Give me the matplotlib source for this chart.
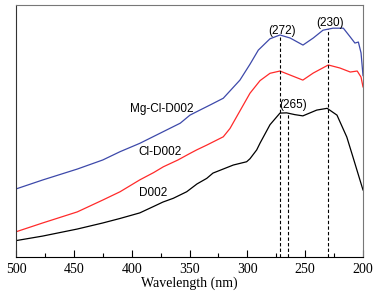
import matplotlib
matplotlib.use("Agg")
import matplotlib.pyplot as plt  # noqa: E402
from matplotlib.ticker import MultipleLocator  # noqa: E402

# Spectra (wavelength in nm, absorbance in arbitrary units)
mg_wl = [500, 476.7, 447, 425, 410, 393, 375.5, 358, 349.6, 341, 332.3, 320.8, 306.4, 297.7,
         290.5, 280.4, 271.8, 263, 251.9, 243, 234.6, 226, 217, 211, 207, 204, 201.7, 200]
mg_abs = [0.27, 0.306, 0.349, 0.385, 0.418, 0.451, 0.491, 0.531, 0.563, 0.583, 0.603, 0.63,
          0.702, 0.765, 0.821, 0.866, 0.881, 0.869, 0.841, 0.869, 0.90, 0.908, 0.908, 0.873,
          0.849, 0.853, 0.81, 0.72]

cl_wl = [500, 477, 447, 425, 410, 393, 381, 372.6, 360, 349.6, 343.8, 335.1, 320.8, 315,
         309.2, 297.7, 289, 280.4, 271.8, 263, 252, 243, 230, 220, 211, 205, 201.7, 200]
cl_abs = [0.10, 0.135, 0.179, 0.226, 0.259, 0.306, 0.335, 0.358, 0.385, 0.411, 0.425, 0.444,
          0.477, 0.51, 0.557, 0.65, 0.70, 0.729, 0.738, 0.722, 0.702, 0.73, 0.762, 0.75, 0.734,
          0.738, 0.714, 0.675]

d_wl = [500, 477, 447, 425, 410, 393, 381.3, 373, 364, 352.4, 343.5, 335.1, 329.7, 312.1,
        300.6, 297.7, 291.9, 289, 280.4, 271.8, 266, 259, 252, 240, 231, 222.5, 214, 208.7,
        202.6, 200]
d_abs = [0.065, 0.083, 0.111, 0.135, 0.153, 0.175, 0.20, 0.218, 0.233, 0.259, 0.29, 0.312,
         0.333, 0.365, 0.378, 0.39, 0.425, 0.452, 0.525, 0.571, 0.572, 0.565, 0.56, 0.583,
         0.59, 0.563, 0.476, 0.397, 0.305, 0.266]

series_names = ["Mg-Cl-D002", "Cl-D002", "D002"]
peak_wl = [272, 265, 230]
peak_top = [0.88, 0.572, 0.905]

fig = plt.figure(figsize=(3.79, 2.93), dpi=100)
ax = fig.add_axes([16 / 379, 36 / 293, 347 / 379, 252 / 293])

ax.plot(mg_wl, mg_abs, color="#3d49aa", lw=0.9)
ax.plot(cl_wl, cl_abs, color="#ff2a2a", lw=0.9)
ax.plot(d_wl, d_abs, color="black", lw=0.9)

for w, top in zip(peak_wl, peak_top):
    ax.plot([w, w], [0, top], color="black", lw=0.8, ls=(0, (3, 2)))

sans = ["Liberation Sans", "DejaVu Sans"]
ax.text(270, 0.897, "(272)", ha="center", va="center", fontsize=8.5, family=sans)
ax.text(228.5, 0.928, "(230)", ha="center", va="center", fontsize=8.5, family=sans)
ax.text(260.5, 0.603, "(265)", ha="center", va="center", fontsize=8.5, family=sans)

ax.text(374, 0.589, series_names[0], ha="center", va="center", fontsize=8.5, family=sans)
ax.text(375.5, 0.417, series_names[1], ha="center", va="center", fontsize=8.5, family=sans)
ax.text(381.6, 0.254, series_names[2], ha="center", va="center", fontsize=8.5, family=sans)

ax.set_xlim(500, 200)
ax.set_ylim(0, 1)
ax.xaxis.set_major_locator(MultipleLocator(50))
ax.xaxis.set_minor_locator(MultipleLocator(25))
ax.set_yticks([])
ax.tick_params(axis="x", which="major", direction="in", length=5, width=0.8, pad=4,
               labelsize=10, labelfontfamily="Liberation Serif")
ax.tick_params(axis="x", which="minor", direction="in", length=3, width=0.8)
ax.set_xlabel("Wavelength (nm)", fontsize=10, family="Liberation Serif", labelpad=1)

for side in ["top", "right"]:
    ax.spines[side].set_color("#777777")
ax.spines["left"].set_color("#333333")

fig.savefig("out.png", dpi=100)
